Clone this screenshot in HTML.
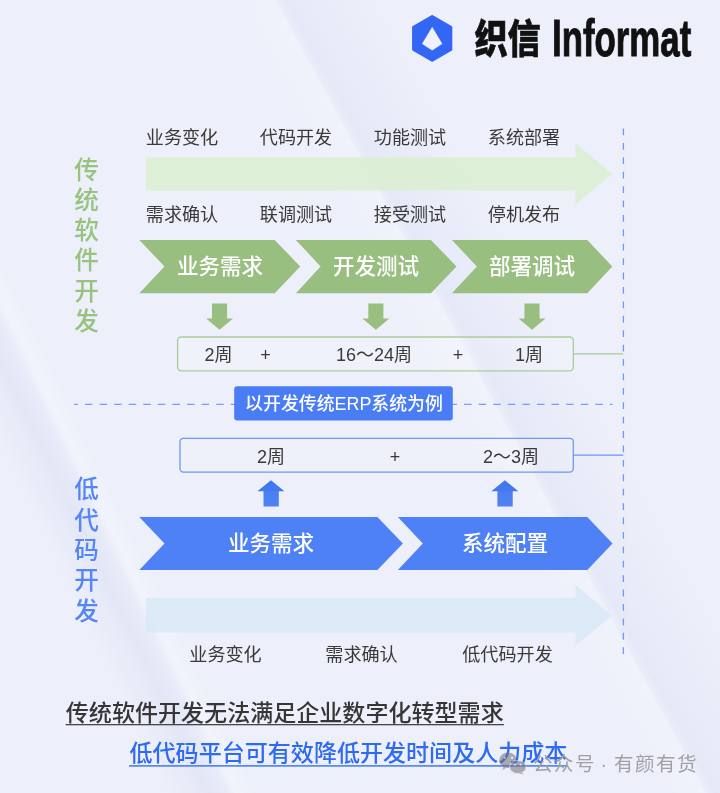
<!DOCTYPE html>
<html lang="zh-CN">
<head>
<meta charset="utf-8">
<title>织信 Informat</title>
<style>
html,body{margin:0;padding:0;background:#edf0fa;}
body{width:720px;height:793px;overflow:hidden;}
svg{display:block;will-change:transform;opacity:0.999;}
text{font-family:"Liberation Sans","Noto Sans CJK SC",sans-serif;}
.cjk{font-family:"Noto Sans CJK SC","Liberation Sans",sans-serif;}
.lbl{font-size:18.1px;fill:#3a3a3a;}
.chev{font-size:21.55px;fill:#fff;font-weight:500;}
.num{font-size:18px;fill:#3a3a3a;}
</style>
</head>
<body>
<svg width="720" height="793" viewBox="0 0 720 793">
<defs>
<linearGradient id="band1" x1="0" y1="0" x2="1" y2="0">
<stop offset="0" stop-color="#e4e7f6" stop-opacity="0"/>
<stop offset="0.12" stop-color="#e4e7f6" stop-opacity="0.9"/>
<stop offset="0.4" stop-color="#e6e9f7" stop-opacity="0.7"/>
<stop offset="1" stop-color="#e8ebf8" stop-opacity="0"/>
</linearGradient>
<linearGradient id="hl" x1="0" y1="0" x2="1" y2="0">
<stop offset="0" stop-color="#f7f9fe" stop-opacity="0"/>
<stop offset="0.6" stop-color="#f7f9fe" stop-opacity="0.2"/>
<stop offset="1" stop-color="#f7f9fe" stop-opacity="0.28"/>
</linearGradient>
<linearGradient id="band2" x1="0" y1="0" x2="1" y2="0">
<stop offset="0" stop-color="#e4e7f6" stop-opacity="0"/>
<stop offset="0.6" stop-color="#e2e5f5" stop-opacity="0.9"/>
<stop offset="0.85" stop-color="#e4e7f6" stop-opacity="0.7"/>
<stop offset="1" stop-color="#e6e9f7" stop-opacity="0"/>
</linearGradient>
<linearGradient id="hl2" x1="0" y1="0" x2="1" y2="0">
<stop offset="0" stop-color="#f6f8fd" stop-opacity="0"/>
<stop offset="0.3" stop-color="#f6f8fd" stop-opacity="0.45"/>
<stop offset="1" stop-color="#f6f8fd" stop-opacity="0"/>
</linearGradient>
<linearGradient id="upg" x1="0" y1="0" x2="0" y2="1">
<stop offset="0" stop-color="#4075ef"/>
<stop offset="0.42" stop-color="#4579f0"/>
<stop offset="0.44" stop-color="#4b7ff2"/>
<stop offset="1" stop-color="#4e81f3"/>
</linearGradient>
</defs>
<!-- background -->
<rect width="720" height="793" fill="#edf0fa"/>
<g id="bg" transform="skewX(28.5)">
<rect x="273" y="0" width="100" height="793" fill="url(#band1)"/>
<rect x="233" y="0" width="43" height="793" fill="url(#hl)"/>
</g>

<g transform="skewX(25.6)">
<rect x="-212" y="0" width="66" height="793" fill="url(#band2)"/>
<rect x="-150" y="0" width="26" height="793" fill="url(#hl2)"/>
</g>

<!-- logo -->
<g id="logo">
<polygon points="432.2,16.58 450.82,27.2 450.82,49.5 432.2,60.32 413.58,49.5 413.58,27.2" fill="#3366f5" stroke="#3366f5" stroke-width="3" stroke-linejoin="round"/>
<polygon points="432.2,27.3 442,43.85 432.2,50.2 422.3,43.85" fill="#eff1fb" stroke="#eff1fb" stroke-width="0.5" stroke-linejoin="round"/>
<text class="cjk" transform="translate(474.4,52.8) scale(0.795,0.94)" font-size="41.8" font-weight="900" fill="#111" stroke="#111" stroke-width="0.6" stroke-linejoin="miter">织信</text>
<text transform="translate(552,56.4) scale(0.672,1)" font-size="51.8" font-weight="700" fill="#111" stroke="#111" stroke-width="1">Informat</text>
</g>

<!-- dashed guides -->
<line x1="623.4" y1="128.5" x2="623.4" y2="654.2" stroke="#7199f3" stroke-width="1.3" stroke-dasharray="6.8 7.61"/>
<line x1="74.3" y1="404.3" x2="612.5" y2="404.3" stroke="#779df4" stroke-width="1.2" stroke-dasharray="7.5 7.08" stroke-dashoffset="3.9"/>

<!-- traditional: top labels -->
<g class="lbl cjk" text-anchor="middle">
<text x="182" y="143.5">业务变化</text>
<text x="296" y="143.5">代码开发</text>
<text x="410" y="143.5">功能测试</text>
<text x="524" y="143.5">系统部署</text>
<text x="182" y="220.5">需求确认</text>
<text x="296" y="220.5">联调测试</text>
<text x="410" y="220.5">接受测试</text>
<text x="524" y="220.5">停机发布</text>
</g>
<polygon points="146,157.3 575.5,157.3 575.5,143.3 612.2,173.8 575.5,204.4 575.5,190.5 146,190.5" fill="#d9efd0" fill-opacity="0.85"/>

<!-- green chevrons -->
<g fill="#98be80">
<polygon points="139.3,239.9 274.7,239.9 300.2,266.55 274.7,293.2 139.3,293.2 164.5,266.55"/>
<polygon points="295.9,239.9 430.9,239.9 456.5,266.55 430.9,293.2 295.9,293.2 320.6,266.55"/>
<polygon points="451.9,239.9 587.3,239.9 612.3,266.55 587.3,293.2 451.9,293.2 476.9,266.55"/>
</g>
<g class="chev cjk" text-anchor="middle">
<text x="220" y="274">业务需求</text>
<text x="376" y="274">开发测试</text>
<text x="532" y="274">部署调试</text>
</g>
<!-- green down arrows -->
<g fill="#98be80">
<path id="da" d="M212,303.5 H227.1 V318.6 H233.1 L219.55,329.7 L206.1,318.6 H212 Z"/>
<use href="#da" x="156.3"/>
<use href="#da" x="312.45"/>
</g>
<!-- green box -->
<rect x="177.6" y="336.95" width="395.7" height="33.85" rx="3.5" fill="#ffffff" fill-opacity="0.15" stroke="#aacd99" stroke-width="1.35"/>
<line x1="573.2" y1="353.9" x2="623.3" y2="353.9" stroke="#a8cb95" stroke-width="1.3"/>
<g class="num" text-anchor="middle">
<text x="218.5" y="361.1">2周</text>
<text x="265.5" y="361.1">+</text>
<text x="374" y="361.1">16～24周</text>
<text x="458" y="361.1">+</text>
<text x="529" y="361.1">1周</text>
</g>

<!-- middle label -->
<rect x="234.2" y="386.3" width="218.6" height="34.2" rx="3" fill="#4a7df5"/>
<text x="344" y="410" text-anchor="middle" font-size="17.9" font-weight="500" fill="#fff">以开发传统ERP系统为例</text>

<!-- blue box -->
<rect x="180" y="438.3" width="393.3" height="33.8" rx="3.5" fill="#ffffff" fill-opacity="0.12" stroke="#6e98f3" stroke-width="1.3"/>
<line x1="573.2" y1="455.2" x2="623.3" y2="455.2" stroke="#6b96f3" stroke-width="1.3"/>
<g class="num" text-anchor="middle">
<text x="271" y="462.7">2周</text>
<text x="395" y="462.7">+</text>
<text x="511" y="462.7">2～3周</text>
</g>
<!-- blue up arrows -->
<g fill="url(#upg)">
<path id="ua" d="M270.96,480.2 L284.5,491.3 H278.8 V506.4 H263.5 V491.3 H257.4 Z"/>
<use href="#ua" x="233.9"/>
</g>
<!-- blue chevrons -->
<g fill="#4e80f6">
<polygon points="139.3,517.1 377.4,517.1 402.9,543.6 377.4,570.1 139.3,570.1 164.5,543.6"/>
<polygon points="397.9,517.1 587.3,517.1 612.5,543.6 587.3,570.1 397.9,570.1 422.8,543.6"/>
</g>
<g class="chev cjk" text-anchor="middle">
<text x="271" y="551">业务需求</text>
<text x="505" y="551">系统配置</text>
</g>
<polygon points="146,598 575.6,598 575.6,585 612.2,615.4 575.6,645.4 575.6,632.6 146,632.6" fill="#d8e9f6" fill-opacity="0.85"/>
<g class="lbl cjk" text-anchor="middle">
<text x="225.5" y="660.9">业务变化</text>
<text x="361.5" y="660.9">需求确认</text>
<text x="507.5" y="660.9">低代码开发</text>
</g>

<!-- side titles -->
<g class="cjk" font-size="24.6" font-weight="500" text-anchor="middle" fill="#98c27e">
<text x="86.5" y="178.8">传</text>
<text x="86.5" y="209">统</text>
<text x="86.5" y="239.2">软</text>
<text x="86.5" y="269.4">件</text>
<text x="86.5" y="299.6">开</text>
<text x="86.5" y="329.8">发</text>
</g>
<g class="cjk" font-size="24.6" font-weight="500" text-anchor="middle" fill="#5686f3">
<text x="86.5" y="498.2">低</text>
<text x="86.5" y="528.5">代</text>
<text x="86.5" y="558.9">码</text>
<text x="86.5" y="589.2">开</text>
<text x="86.5" y="619.6">发</text>
</g>

<!-- bottom statements -->
<g class="cjk" font-size="23.05" font-weight="500">
<text x="65.8" y="720.8" fill="#363636">传统软件开发无法满足企业数字化转型需求</text>
<text x="129.5" y="760.9" fill="#2e6bf0">低代码平台可有效降低开发时间及人力成本</text>
</g>
<rect x="65.6" y="724" width="438.3" height="1.3" fill="#474747"/>
<rect x="129" y="765.15" width="438.6" height="1.5" fill="#3f78f2"/>

<!-- watermark -->
<g id="wm">
<g opacity="0.55">
<ellipse cx="508" cy="760.3" rx="8.8" ry="7.7" fill="#707074"/>
<path d="M503.6,766.6 l-1.4,3.4 l4.4,-2.2 z" fill="#707074"/>
<ellipse cx="517.9" cy="767" rx="8.3" ry="6.6" fill="#707074" stroke="#d9dce8" stroke-width="1"/>
<path d="M521.6,772.6 l2,2 l-4.2,-1 z" fill="#707074"/>
<g fill="#eef0f8">
<circle cx="504.9" cy="757.8" r="1.1"/><circle cx="512.1" cy="757.8" r="1.1"/>
<circle cx="514.9" cy="764.9" r="0.95"/><circle cx="520.6" cy="764.9" r="0.95"/>
</g>
</g>
<g class="cjk" font-size="19.5" fill="#a0a0a5" letter-spacing="1.5">
<text x="533" y="771">公众号</text>
<text x="600.6" y="771">·</text>
<text x="614" y="771">有颜有货</text>
</g>
</g>
</svg>
</body>
</html>
